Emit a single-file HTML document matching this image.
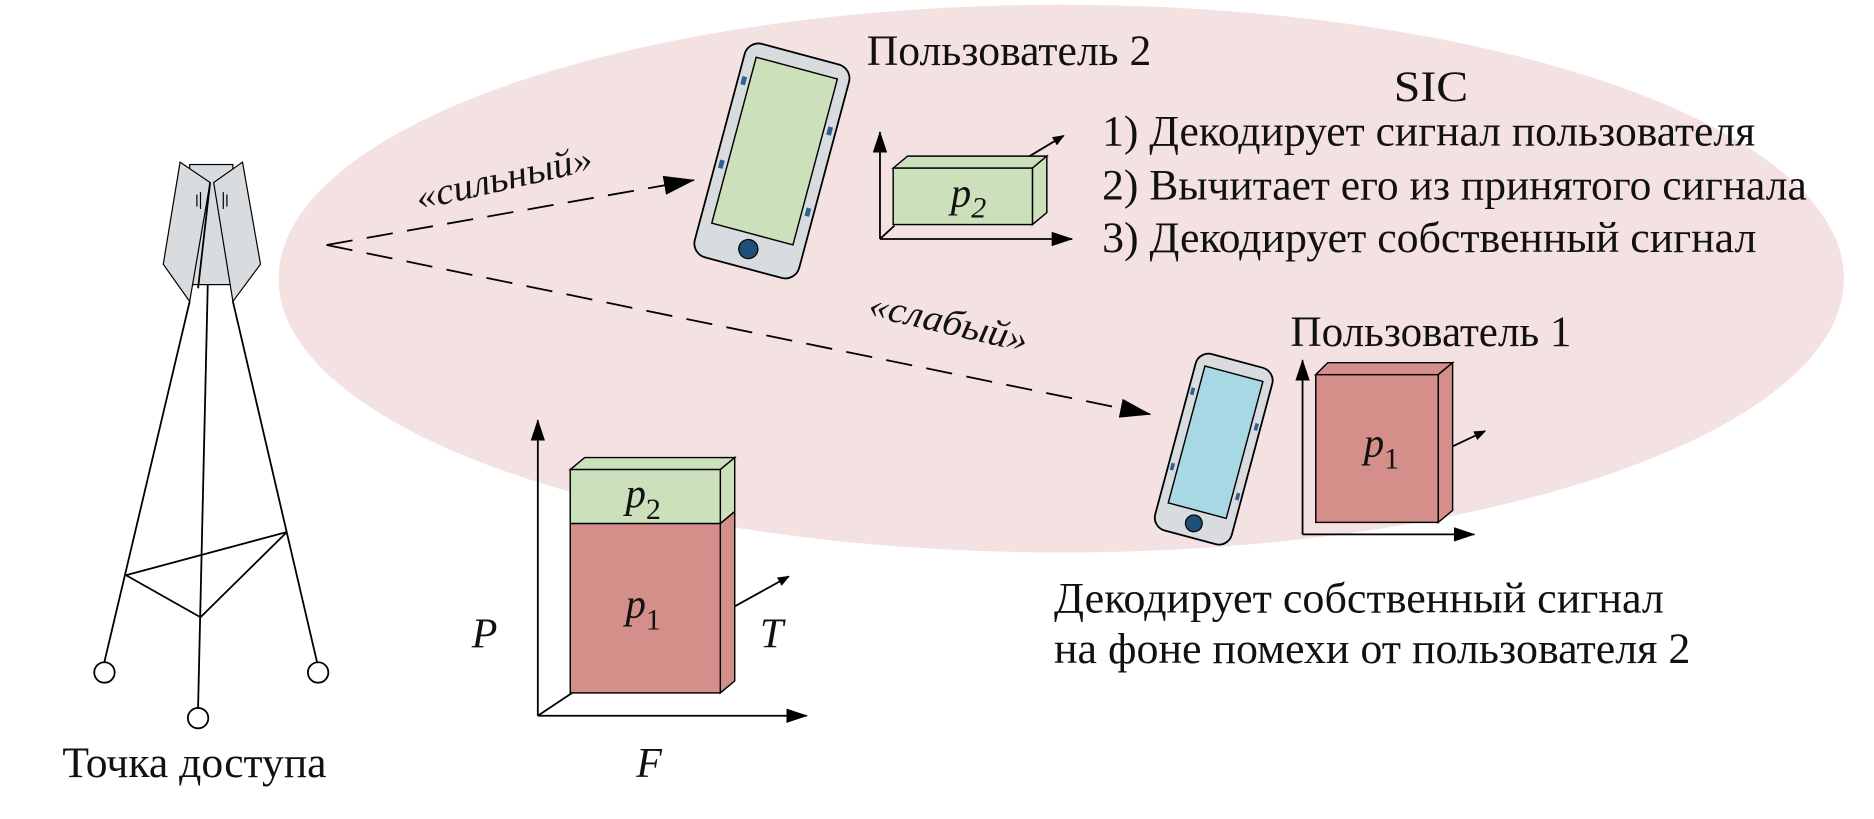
<!DOCTYPE html>
<html><head><meta charset="utf-8"><style>
html,body{margin:0;padding:0;background:#fff;}
svg{display:block;}
svg text{font-family:"Liberation Serif","Times New Roman",serif;fill:#111;}
</style></head><body>
<svg width="1874" height="819" viewBox="0 0 1561 682" preserveAspectRatio="none" xmlns="http://www.w3.org/2000/svg" font-family="Liberation Serif, serif">
<defs>
<marker id="ah" markerWidth="10" markerHeight="8" refX="9" refY="4" orient="auto" markerUnits="userSpaceOnUse"><path d="M0,0 L10,4 L0,8 Z" fill="#000"/></marker>
<marker id="ahb" markerWidth="26" markerHeight="16" refX="25" refY="8" orient="auto" markerUnits="userSpaceOnUse"><path d="M0,0 L26,8 L0,16 Z" fill="#000"/></marker>
<marker id="ahm" markerWidth="18" markerHeight="12" refX="17" refY="6" orient="auto" markerUnits="userSpaceOnUse"><path d="M0,0 L18,6 L0,12 Z" fill="#000"/></marker>
</defs>
<ellipse cx="884" cy="232" rx="652" ry="228" fill="#f3e2e1"/>

<g stroke="#000" stroke-width="1.5" fill="none">
<line x1="158" y1="251" x2="87" y2="551"/>
<line x1="194" y1="251" x2="264" y2="551"/>
<line x1="175" y1="152" x2="165" y2="589"/>
<line x1="105" y1="479" x2="239" y2="443"/>
<line x1="105" y1="479" x2="167" y2="514"/>
<line x1="167" y1="514" x2="239" y2="443"/>
<circle cx="87" cy="560" r="8.5" fill="#fff"/>
<circle cx="265" cy="560" r="8.5" fill="#fff"/>
<circle cx="165" cy="598" r="8.5" fill="#fff"/>
</g>
<g stroke="#000" stroke-width="1" fill="#d9dcdf">
<rect x="158" y="137" width="36" height="100"/>
<polygon points="150,135 136,220 158,251 175,152"/>
<polygon points="202,135 217,220 194,251 178,152"/>
</g>
<line x1="175" y1="152" x2="165" y2="240" stroke="#000" stroke-width="1.5"/>
<g stroke="#000" stroke-width="1"><line x1="164" y1="162" x2="164" y2="172"/><line x1="167" y1="160" x2="167" y2="174"/><line x1="186" y1="160" x2="186" y2="174"/><line x1="189" y1="162" x2="189" y2="172"/></g>

<g stroke="#000" stroke-width="1.5" fill="none" stroke-dasharray="22,12">
<line x1="272" y1="204" x2="578" y2="150" marker-end="url(#ahb)"/>
<line x1="272" y1="204" x2="958" y2="345" marker-end="url(#ahb)"/>
</g>
<text x="422" y="158" font-size="31" font-style="italic" transform="rotate(-13 422 158)" text-anchor="middle" textLength="150" lengthAdjust="spacingAndGlyphs">«сильный»</text>
<text x="788" y="278" font-size="31" font-style="italic" transform="rotate(13 788 278)" text-anchor="middle" textLength="135" lengthAdjust="spacingAndGlyphs">«слабый»</text>

<g transform="translate(643,134) rotate(15)">
<rect x="-45" y="-92" width="90" height="184" rx="12" fill="#d9dcdf" stroke="#000" stroke-width="1.5"/>
<rect x="-35" y="-80" width="70" height="143" fill="#cce0bb" stroke="#000" stroke-width="1.2"/>
<circle cx="0" cy="76" r="8" fill="#1f4e79" stroke="#000"/>
<rect x="-42" y="-62" width="4" height="7" fill="#2d6193"/><rect x="-42" y="10" width="4" height="7" fill="#2d6193"/>
<rect x="38" y="-40" width="4" height="7" fill="#2d6193"/><rect x="38" y="30" width="4" height="7" fill="#2d6193"/>
</g>
<g transform="translate(1011,374) rotate(15)">
<rect x="-33" y="-76" width="66" height="152" rx="11" fill="#d9dcdf" stroke="#000" stroke-width="1.5"/>
<rect x="-25" y="-65" width="50" height="118" fill="#a8d8e3" stroke="#000" stroke-width="1.2"/>
<circle cx="0" cy="64" r="7" fill="#1f4e79" stroke="#000"/>
<rect x="-31" y="-45" width="3" height="6" fill="#2d6193"/><rect x="-31" y="20" width="3" height="6" fill="#2d6193"/>
<rect x="28" y="-30" width="3" height="6" fill="#2d6193"/><rect x="28" y="30" width="3" height="6" fill="#2d6193"/>
</g>

<g stroke="#000" stroke-width="1.5" fill="none">
<line x1="733" y1="199" x2="733" y2="110" marker-end="url(#ahm)"/>
<line x1="733" y1="199" x2="893" y2="199" marker-end="url(#ahm)"/>
<line x1="733" y1="199" x2="745" y2="188"/>
<line x1="856" y1="131" x2="886" y2="113" marker-end="url(#ah)"/>
</g>
<g stroke="#000" stroke-width="1.2" fill="#cce0bb">
<polygon points="744,140 756,130 872,130 860,140"/>
<polygon points="860,140 872,130 872,177 860,187"/>
<rect x="744" y="140" width="116" height="47"/>
</g>
<text x="792" y="172" font-size="34" font-style="italic">p</text><text x="809" y="181" font-size="25" font-style="italic">2</text>

<g stroke="#000" stroke-width="1.5" fill="none">
<line x1="1085" y1="445" x2="1085" y2="300" marker-end="url(#ahm)"/>
<line x1="1085" y1="445" x2="1228" y2="445" marker-end="url(#ahm)"/>
<line x1="1205" y1="374" x2="1237" y2="359" marker-end="url(#ah)"/>
</g>
<g stroke="#000" stroke-width="1.2" fill="#d48f8b">
<polygon points="1096,312 1106,302 1210,302 1198,312"/>
<polygon points="1198,312 1210,302 1210,425 1198,435"/>
<rect x="1096" y="312" width="102" height="123"/>
</g>
<text x="1136" y="380" font-size="34" font-style="italic">p</text><text x="1153" y="390" font-size="25">1</text>

<g stroke="#000" stroke-width="1.5" fill="none">
<line x1="448" y1="596" x2="448" y2="350" marker-end="url(#ahm)"/>
<line x1="448" y1="596" x2="672" y2="596" marker-end="url(#ahm)"/>
<line x1="448" y1="596" x2="478" y2="576"/>
<line x1="601" y1="511" x2="657" y2="480" marker-end="url(#ah)"/>
</g>
<g stroke="#000" stroke-width="1.2">
<polygon points="475,391 487,381 612,381 600,391" fill="#cce0bb"/>
<polygon points="600,391 612,381 612,426 600,436" fill="#cce0bb"/>
<polygon points="600,436 612,426 612,567 600,577" fill="#d48f8b"/>
<rect x="475" y="391" width="125" height="45" fill="#cce0bb"/>
<rect x="475" y="436" width="125" height="141" fill="#d48f8b"/>
</g>
<text x="521" y="422" font-size="34" font-style="italic">p</text><text x="538" y="432" font-size="25">2</text>
<text x="521" y="514" font-size="34" font-style="italic">p</text><text x="538" y="524" font-size="25">1</text>
<text x="393" y="539" font-size="35" font-style="italic">P</text>
<text x="633" y="539" font-size="35" font-style="italic">T</text>
<text x="530" y="647" font-size="35" font-style="italic">F</text>

<text x="52" y="647" font-size="36" textLength="220" lengthAdjust="spacingAndGlyphs">Точка доступа</text>
<text x="722" y="54" font-size="36" textLength="237" lengthAdjust="spacingAndGlyphs">Пользователь 2</text>
<text x="1192" y="84" font-size="36" text-anchor="middle" textLength="62" lengthAdjust="spacingAndGlyphs">SIC</text>
<text x="918" y="121" font-size="36" textLength="544" lengthAdjust="spacingAndGlyphs">1) Декодирует сигнал пользователя</text>
<text x="918" y="166" font-size="36" textLength="587" lengthAdjust="spacingAndGlyphs">2) Вычитает его из принятого сигнала</text>
<text x="918" y="210" font-size="36" textLength="545" lengthAdjust="spacingAndGlyphs">3) Декодирует собственный сигнал</text>
<text x="1075" y="288" font-size="36" textLength="234" lengthAdjust="spacingAndGlyphs">Пользователь 1</text>
<text x="878" y="510" font-size="36" textLength="508" lengthAdjust="spacingAndGlyphs">Декодирует собственный сигнал</text>
<text x="878" y="552" font-size="36" textLength="530" lengthAdjust="spacingAndGlyphs">на фоне помехи от пользователя 2</text>
</svg>
</body></html>
